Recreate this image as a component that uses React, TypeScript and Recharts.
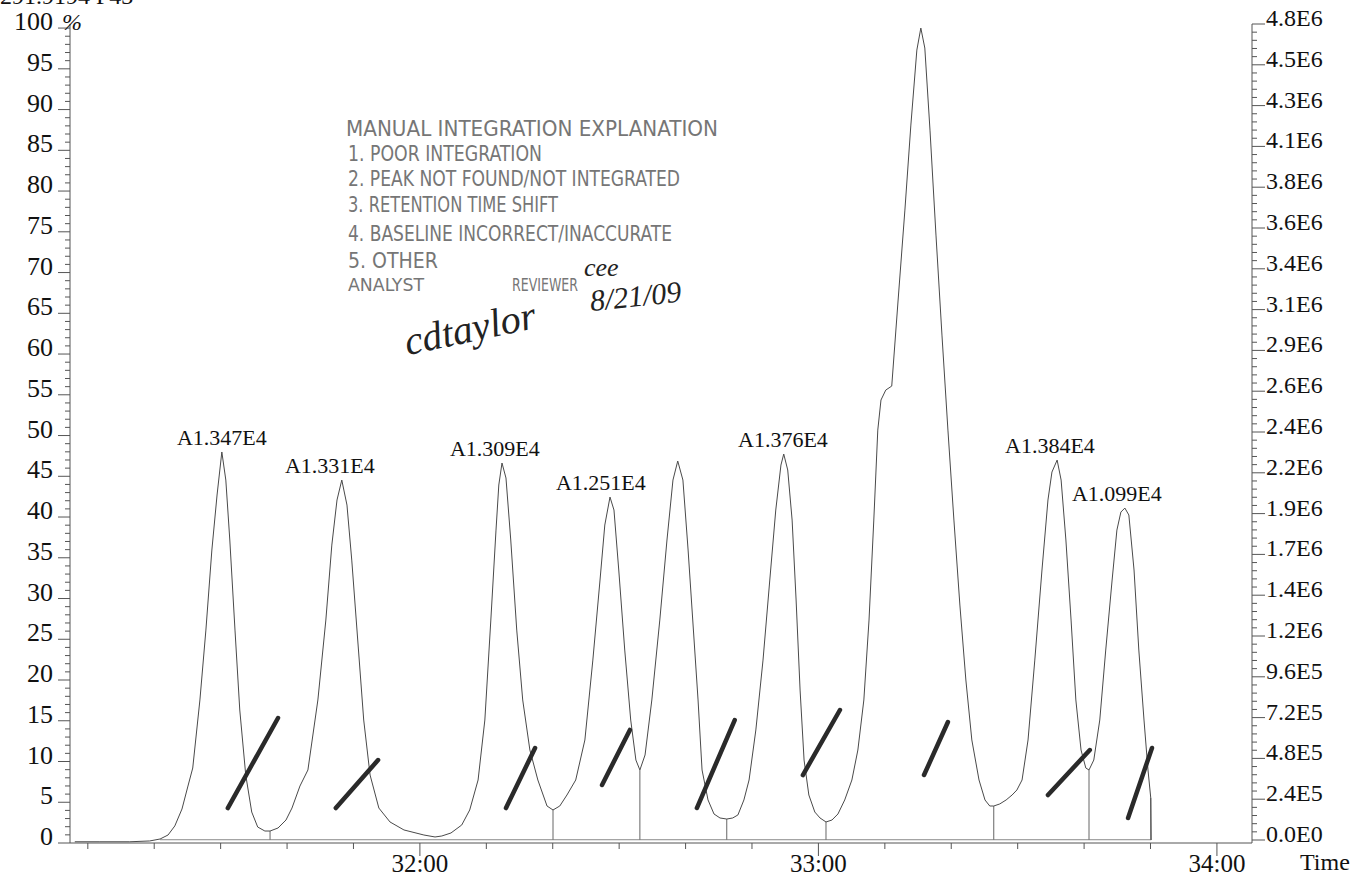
import React from 'react';
import { ComposedChart, Line, XAxis, YAxis, ReferenceLine, Scatter } from 'recharts';

// ---- signal trace (time in minutes, intensity in % of full scale) ----
const traceTimes = [
  31.134, 31.197, 31.272, 31.322, 31.348, 31.368, 31.385, 31.403, 31.418, 31.430,
  31.448, 31.463, 31.478, 31.491, 31.503, 31.513, 31.523, 31.536, 31.548, 31.563,
  31.578, 31.593, 31.611, 31.624,
  31.644, 31.664, 31.679, 31.699, 31.719, 31.744, 31.764, 31.779, 31.792, 31.804,
  31.817, 31.829, 31.844, 31.859, 31.875, 31.897, 31.925, 31.960, 32.010, 32.038,
  32.055, 32.078, 32.105, 32.125, 32.146,
  32.163, 32.178, 32.191, 32.198, 32.206, 32.216, 32.228, 32.243, 32.258, 32.276,
  32.296, 32.319, 32.334,
  32.351, 32.369, 32.391, 32.414, 32.434, 32.452, 32.464, 32.477, 32.487, 32.499,
  32.514, 32.529, 32.542, 32.552,
  32.565, 32.582, 32.602, 32.620, 32.635, 32.647, 32.660, 32.673, 32.688, 32.698,
  32.708, 32.723, 32.738, 32.753, 32.770,
  32.785, 32.798, 32.813, 32.826, 32.843, 32.861, 32.878, 32.893, 32.906, 32.913,
  32.923, 32.934, 32.944, 32.954, 32.964, 32.976, 32.991, 33.004, 33.019,
  33.034, 33.049, 33.066, 33.084, 33.099, 33.114, 33.127, 33.139, 33.149, 33.157,
  33.169, 33.184, 33.200, 33.217, 33.232, 33.247, 33.257, 33.267, 33.280, 33.295,
  33.310, 33.325, 33.340, 33.355, 33.370, 33.385, 33.403, 33.418, 33.430, 33.440,
  33.455, 33.471, 33.486, 33.498, 33.511, 33.526, 33.543, 33.561, 33.576, 33.586,
  33.599, 33.609, 33.621, 33.634, 33.646, 33.659, 33.671, 33.679,
  33.691, 33.706, 33.721, 33.737, 33.749, 33.759, 33.769, 33.779, 33.792, 33.804,
  33.817, 33.827, 33.834, 33.835,
];
const traceValues = [
  0.15, 0.15, 0.15, 0.25, 0.49, 0.98, 2.09, 4.17, 6.99, 9.2,
  17.55, 26.13, 35.95, 42.7, 47.98, 44.54, 37.18, 26.13, 16.32, 8.34,
  3.8, 1.96, 1.47, 1.47,
  1.84, 2.82, 4.29, 6.99, 8.96, 17.55, 27.36, 36.56, 42.09, 44.54,
  41.47, 34.72, 24.91, 15.09, 8.34, 4.29, 2.58, 1.6, 0.98, 0.74,
  0.86, 1.23, 2.21, 4.05, 7.73,
  15.09, 27.36, 38.4, 43.93, 46.63, 44.79, 37.18, 26.13, 17.55, 11.41,
  7.73, 4.54, 4.05,
  4.54, 5.89, 7.73, 12.64, 22.45, 32.27, 39.02, 42.45, 40.86, 33.5,
  23.68, 15.09, 10.18, 8.96,
  10.8, 17.55, 27.36, 37.18, 44.54, 46.87, 44.54, 35.95, 24.91, 17.55,
  8.96, 5.28, 3.56, 3.07, 2.94,
  3.07, 3.44, 5.28, 7.73, 13.87, 22.45, 32.27, 40.86, 46.38, 47.73,
  45.77, 39.63, 29.82, 18.77, 10.18, 5.89, 3.8, 3.07, 2.58,
  2.82, 3.56, 5.28, 7.73, 11.41, 17.55, 27.36, 39.63, 50.67, 54.36,
  55.58, 56.07, 66.63, 77.67, 88.1, 97.3, 100, 97.55, 87.48, 74.6,
  62.33, 50.67, 39.63, 29.2, 20.0, 12.64, 7.73, 5.28, 4.54, 4.54,
  4.79, 5.28, 5.89, 6.5, 7.73, 12.64, 22.45, 33.5, 42.09, 45.52,
  46.99, 44.54, 37.18, 27.36, 17.55, 11.41, 9.2, 8.96,
  10.18, 15.09, 23.68, 32.27, 38.4, 40.61, 41.1, 40.25, 33.5, 23.68,
  15.09, 8.96, 5.52, 0.37,
];

// ---- integration: baseline and drop lines at valleys ----
const baselineStart = 31.348;
const baselineEnd = 33.835;
const baselineLevel = 0.4;
const dropTimes = [31.624, 32.334, 32.552, 32.770, 33.019, 33.440, 33.679, 33.834];
const dropTops = [1.47, 4.05, 8.96, 2.94, 2.58, 4.54, 8.96, 5.52];

// ---- peak area labels ----
const peakLabels = ['A1.347E4', 'A1.331E4', 'A1.309E4', 'A1.251E4', 'A1.376E4', 'A5.110E4', 'A1.384E4', 'A1.099E4'];
const labelTimes = [31.503, 31.774, 32.188, 32.454, 32.911, 33.257, 33.581, 33.749];
const labelLevels = [47.98, 44.54, 46.63, 42.45, 47.73, 100, 46.99, 41.1];

// ---- reviewer check strokes (start/end in time, %) ----
const markStartTimes = [31.518, 31.789, 32.216, 32.457, 32.695, 32.961, 33.265, 33.576, 33.777];
const markStartLevels = [4.29, 4.29, 4.29, 7.12, 4.29, 8.34, 8.34, 5.89, 3.07];
const markEndTimes = [31.644, 31.895, 32.289, 32.527, 32.790, 33.054, 33.325, 33.681, 33.837];
const markEndLevels = [15.34, 10.18, 11.66, 13.87, 15.09, 16.32, 14.85, 11.41, 11.66];

// ---- axes ----
const timeDomain = [31.122, 34.088];
const timeTicks = [31.1667, 31.3333, 31.5, 31.6667, 31.8333, 32, 32.1667, 32.3333, 32.5, 32.6667, 32.8333, 33, 33.1667, 33.3333, 33.5, 33.6667, 33.8333, 34];
const timeMajorValues = [32, 33, 34];
const timeMajorLabels = ['32:00', '33:00', '34:00'];
const pctLabels = ['0', '5', '10', '15', '20', '25', '30', '35', '40', '45', '50', '55', '60', '65', '70', '75', '80', '85', '90', '95', '100'];
const absLabels = ['0.0E0', '2.4E5', '4.8E5', '7.2E5', '9.6E5', '1.2E6', '1.4E6', '1.7E6', '1.9E6', '2.2E6', '2.4E6', '2.6E6', '2.9E6', '3.1E6', '3.4E6', '3.6E6', '3.8E6', '4.1E6', '4.3E6', '4.5E6', '4.8E6'];
const absStep = 240000;

const traceData = traceTimes.map((t, i) => ({ t, v: traceValues[i] }));
const labelData = labelTimes.map((t, i) => ({ t, v: labelLevels[i], label: peakLabels[i] }));
const pctTicks = Array.from({ length: 101 }, (_, i) => i);
const absTicks = Array.from({ length: 101 }, (_, i) => (i * absStep) / 5);

const SERIF = "'Liberation Serif', 'Times New Roman', serif";
const STAMP = "'DejaVu Sans Condensed', 'Liberation Sans', sans-serif";
const AXIS = '#555';

const LeftTick = (props: any) => {
  const { x, y, payload } = props;
  const v = payload.value;
  const major = v % 5 === 0;
  return (
    <g>
      <line x1={x - (major ? 12 : 5)} x2={x} y1={y} y2={y} stroke={AXIS} strokeWidth={1} />
      {major && (
        <text x={x - 17} y={y + 2} textAnchor="end" fontSize={26} fontFamily={SERIF} fill="#111">
          {pctLabels[v / 5]}
        </text>
      )}
      {v === 100 && (
        <text x={x - 8} y={y + 2} fontSize={24} fontStyle="italic" fontFamily={SERIF} fill="#111">%</text>
      )}
    </g>
  );
};

const RightTick = (props: any) => {
  const { x, y, payload } = props;
  const idx = Math.round(payload.value / (absStep / 5));
  const major = idx % 5 === 0;
  return (
    <g>
      <line x1={x} x2={x + (major ? 13 : 5)} y1={y} y2={y} stroke={AXIS} strokeWidth={1} />
      {major && (
        <text x={x + 14} y={y + 2} textAnchor="start" fontSize={24} fontFamily={SERIF} fill="#111">
          {absLabels[idx / 5]}
        </text>
      )}
    </g>
  );
};

const XTick = (props: any) => {
  const { x, y, payload } = props;
  const v = payload.value;
  const mi = timeMajorValues.findIndex((m) => Math.abs(m - v) < 1e-3);
  const major = mi >= 0;
  return (
    <g>
      <line x1={x} x2={x} y1={y} y2={y + (major ? 13 : 6)} stroke={AXIS} strokeWidth={1} />
      {major && (
        <text x={x} y={y + 29} textAnchor="middle" fontSize={25} fontFamily={SERIF} fill="#111">
          {timeMajorLabels[mi]}
        </text>
      )}
    </g>
  );
};

const PeakLabel = (props: any) => {
  const { cx, cy, payload } = props;
  return (
    <text x={cx} y={cy - 7} textAnchor="middle" fontSize={22} fontFamily={SERIF} fill="#111">
      {payload.label}
    </text>
  );
};

export default function App() {
  return (
    <div style={{ position: 'absolute', left: 0, top: 0, width: 1360, height: 877, background: '#fff', overflow: 'hidden' }}>
      <ComposedChart width={1360} height={877} margin={{ top: 24, right: 0, bottom: 0, left: 0 }}>
        <XAxis
          xAxisId="t"
          type="number"
          dataKey="t"
          domain={timeDomain}
          allowDataOverflow
          ticks={timeTicks}
          interval={0}
          tick={XTick}
          tickLine={false}
          tickSize={0}
          tickMargin={0}
          height={34}
          axisLine={{ stroke: AXIS }}
        />
        <YAxis
          yAxisId="pct"
          orientation="left"
          type="number"
          domain={[0, 100.5]}
          allowDataOverflow
          ticks={pctTicks}
          interval={0}
          tick={LeftTick}
          tickLine={false}
          tickSize={0}
          tickMargin={0}
          width={70}
          axisLine={{ stroke: AXIS }}
        />
        <YAxis
          yAxisId="abs"
          orientation="right"
          type="number"
          domain={[-17647, 4800000]}
          allowDataOverflow
          ticks={absTicks}
          interval={0}
          tick={RightTick}
          tickLine={false}
          tickSize={0}
          tickMargin={0}
          width={108}
          axisLine={{ stroke: AXIS }}
        />
        <ReferenceLine
          xAxisId="t"
          yAxisId="pct"
          segment={[{ x: baselineStart, y: baselineLevel }, { x: baselineEnd, y: baselineLevel }]}
          stroke="#888"
          strokeWidth={1}
        />
        {dropTimes.map((t, i) => (
          <ReferenceLine
            key={'d' + i}
            xAxisId="t"
            yAxisId="pct"
            segment={[{ x: t, y: dropTops[i] }, { x: t, y: baselineLevel }]}
            stroke="#666"
            strokeWidth={1}
          />
        ))}
        <Line
          xAxisId="t"
          yAxisId="pct"
          data={traceData}
          dataKey="v"
          type="linear"
          stroke="#4a4a4a"
          strokeWidth={1}
          dot={false}
          isAnimationActive={false}
        />
        {markStartTimes.map((t, i) => (
          <ReferenceLine
            key={'m' + i}
            xAxisId="t"
            yAxisId="pct"
            segment={[{ x: t, y: markStartLevels[i] }, { x: markEndTimes[i], y: markEndLevels[i] }]}
            stroke="#2a2a2a"
            strokeWidth={4.5}
            strokeLinecap="round"
          />
        ))}
        <Scatter
          xAxisId="t"
          yAxisId="pct"
          data={labelData}
          dataKey="v"
          shape={PeakLabel}
          isAnimationActive={false}
        />
      </ComposedChart>
      <svg width={1360} height={877} style={{ position: 'absolute', left: 0, top: 0, pointerEvents: 'none' }}>
        <text x={0} y={4} fontSize={24} fontFamily={SERIF} fill="#111">291.9194 F43</text>
        <text x={1300} y={870} fontSize={24} fontFamily={SERIF} fill="#111">Time</text>
        <g fontFamily={STAMP} fill="#767676" fontSize={21}>
          <text x={346} y={136} textLength={372} lengthAdjust="spacingAndGlyphs">MANUAL INTEGRATION EXPLANATION</text>
          <text x={348} y={161} textLength={194} lengthAdjust="spacingAndGlyphs">1. POOR INTEGRATION</text>
          <text x={348} y={186} textLength={332} lengthAdjust="spacingAndGlyphs">2. PEAK NOT FOUND/NOT INTEGRATED</text>
          <text x={348} y={212} textLength={210} lengthAdjust="spacingAndGlyphs">3. RETENTION TIME SHIFT</text>
          <text x={348} y={241} textLength={324} lengthAdjust="spacingAndGlyphs">4. BASELINE INCORRECT/INACCURATE</text>
          <text x={348} y={268} textLength={90} lengthAdjust="spacingAndGlyphs">5. OTHER</text>
          <text x={348} y={291} fontSize={17} textLength={76} lengthAdjust="spacingAndGlyphs">ANALYST</text>
          <text x={512} y={291} fontSize={17} textLength={66} lengthAdjust="spacingAndGlyphs">REVIEWER</text>
        </g>
        <g fontFamily={SERIF} fontStyle="italic" fill="#222">
          <text x={584} y={276} fontSize={26}>cee</text>
          <text x={590} y={308} fontSize={30} transform="rotate(-6 620 300)">8/21/09</text>
          <text x={404} y={346} fontSize={40} transform="rotate(-12 450 334)">cdtaylor</text>
        </g>
      </svg>
    </div>
  );
}
